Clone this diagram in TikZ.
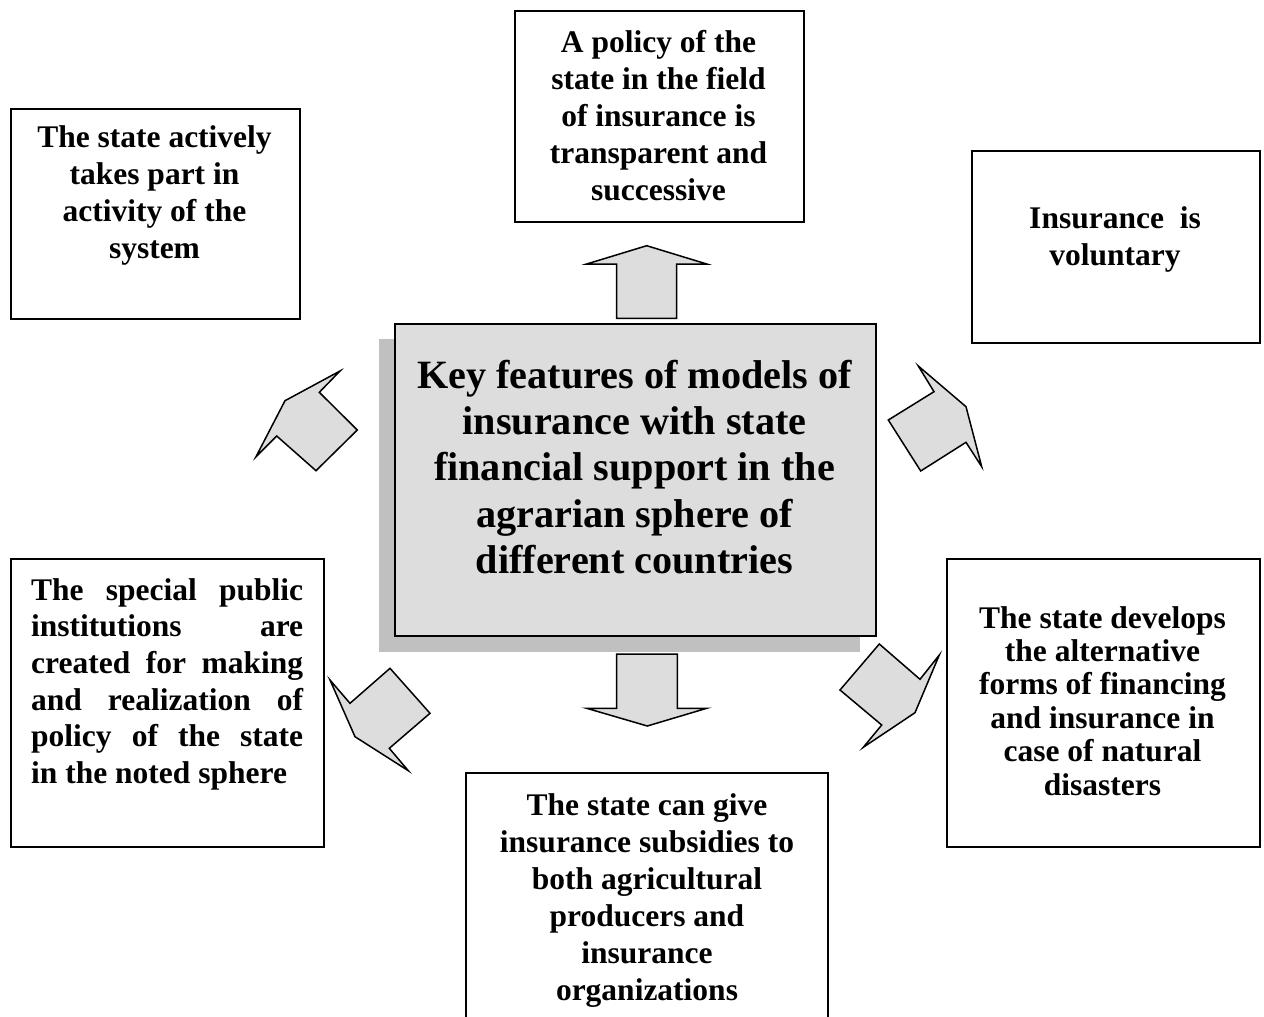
\documentclass[tikz,border=0pt]{standalone}
\usepackage{fontspec}
\setmainfont{Liberation Serif}
\definecolor{boxfill}{HTML}{DDDDDD}
\definecolor{shadowgray}{HTML}{C0C0C0}
\begin{document}
\begin{tikzpicture}[x=1pt,y=-1pt,
  box/.style={draw, line width=1.6pt, anchor=north west, inner sep=0pt, fill=white},
  txt/.style={anchor=north, inner sep=0pt, align=center, font=\bfseries\fontsize{31.5}{37}\selectfont},
  bigarrow/.style={draw, fill=boxfill, line width=1.5pt, line join=miter}]
\useasboundingbox[fill=white] (0,0) rectangle (1264,1017);

% centre box with shadow
\fill[shadowgray] (379,339) rectangle (860,652);
\node[box, fill=boxfill, minimum width=481pt, minimum height=312pt] (center) at (394,323) {};
\node[anchor=north, inner sep=0pt, align=center, font=\bfseries\fontsize{40.2}{46.3}\selectfont] (centert) at (634.5,355.6)
  {\strut Key features of models of\\ insurance with state\\ financial support in the\\ agrarian sphere of\\ different countries};

% outer boxes
\node[box, minimum width=289pt, minimum height=210pt] (tl) at (10,108) {};
\node[txt] (tlt) at (154.5,121.1) {\strut The state actively\\ takes part in\\ activity of the\\ system};

\node[box, minimum width=289pt, minimum height=211pt] (top) at (514,10) {};
\node[txt] (topt) at (658.5,26) {\strut A policy of the\\ state in the field\\ of insurance is\\ transparent and\\ successive};

\node[box, minimum width=288pt, minimum height=192pt] (tr) at (971,150) {};
\node[txt] (trt) at (1115,202) {\strut Insurance\ \ is\\ voluntary};

\node[box, minimum width=313pt, minimum height=288pt] (bl) at (10,558) {};
\node[anchor=north west, inner sep=0pt, align=left, font=\bfseries\fontsize{31.5}{36.7}\selectfont] (blt) at (31,574.3)
  {\strut\hbox to 272pt{The\hfill special\hfill public}\\
   \hbox to 272pt{institutions\hfill are}\\
   \hbox to 272pt{created\hfill for\hfill making}\\
   \hbox to 272pt{and\hfill realization\hfill of}\\
   \hbox to 272pt{policy\hfill of\hfill the\hfill state}\\
   in the noted sphere};

\node[box, minimum width=313pt, minimum height=288pt] (br) at (946,558) {};
\node[anchor=north, inner sep=0pt, align=center, font=\bfseries\fontsize{31.5}{33.4}\selectfont] (brt) at (1102.5,604.6)
  {\strut The state develops\\ the alternative\\ forms of financing\\ and insurance in\\ case of natural\\ disasters};

% bottom box (cut off at the lower edge)
\coordinate (bb1) at (466,1020);
\coordinate (bb2) at (828,1020);
\draw[line width=1.6pt] (bb1) |- (828,773) -- (bb2);
\node[txt] (bott) at (647,789) {\strut The state can give\\ insurance subsidies to\\ both agricultural\\ producers and\\ insurance\\ organizations};

% block arrows
\draw[bigarrow] (646.7,245.7) -- (706.7,264) -- (676.7,264) -- (676.7,318.3) -- (616.7,318.3) -- (616.7,264) -- (586.7,264) -- cycle;
\draw[bigarrow] (616.7,654) -- (677.3,654) -- (677.3,708.3) -- (706.7,708.3) -- (647.3,726) -- (586.7,708.3) -- (616.7,708.3) -- cycle;
\draw[bigarrow] (256,456.7) -- (276.7,436) -- (316,470.7) -- (357.3,430) -- (319.3,392.3) -- (340,371) -- (285,400.7) -- cycle;
\draw[bigarrow] (918.3,366) -- (934,391.7) -- (888.3,420) -- (920.7,471) -- (966,442.3) -- (981.7,466.7) -- (966,406.7) -- cycle;
\draw[bigarrow] (330,680) -- (350,703.3) -- (390,668.3) -- (430,713.3) -- (389.3,748.3) -- (408.3,770.7) -- (355,736.7) -- cycle;
\draw[bigarrow] (879.3,644) -- (920,679.3) -- (939.3,655) -- (915,712.7) -- (863.3,747.3) -- (881.7,725) -- (840,690) -- cycle;
\end{tikzpicture}
\end{document}
